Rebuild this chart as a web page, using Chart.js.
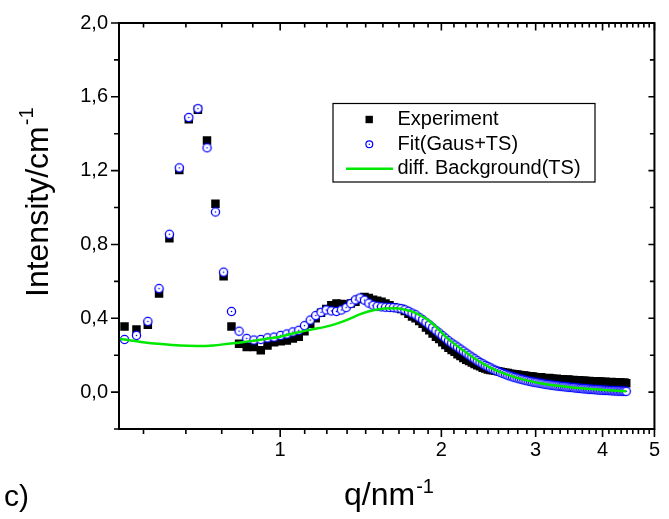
<!DOCTYPE html>
<html>
<head>
<meta charset="utf-8">
<title>Intensity vs q</title>
<script src="https://cdn.jsdelivr.net/npm/chart.js@4.4.0/dist/chart.umd.min.js"></script>
<style>
  html, body { margin: 0; padding: 0; background: #fff; }
  #wrap { position: relative; width: 669px; height: 519px; }
</style>
</head>
<body>
<div id="wrap"><canvas id="chart" width="669" height="519"></canvas></div>
<script>
// q values of the measured / fitted points (nm^-1)
const qValues = [
  0.512, 0.539, 0.566, 0.594, 0.621, 0.648, 0.675, 0.702, 0.730, 0.757,
  0.784, 0.811, 0.838, 0.866, 0.893, 0.920, 0.947, 0.974, 1.002, 1.029,
  1.056, 1.083, 1.110, 1.138, 1.165, 1.192, 1.219, 1.246, 1.274, 1.301,
  1.328, 1.355, 1.382, 1.410, 1.437, 1.464, 1.491, 1.518, 1.546, 1.573,
  1.600, 1.627, 1.654, 1.682, 1.709, 1.736, 1.763, 1.790, 1.818, 1.845,
  1.872, 1.899, 1.926, 1.954, 1.981, 2.008, 2.035, 2.062, 2.090, 2.117,
  2.144, 2.171, 2.198, 2.226, 2.253, 2.280, 2.307, 2.334, 2.362, 2.389,
  2.416, 2.443, 2.470, 2.498, 2.525, 2.552, 2.579, 2.606, 2.634, 2.661,
  2.688, 2.715, 2.742, 2.770, 2.797, 2.824, 2.851, 2.878, 2.906, 2.933,
  2.960, 2.987, 3.014, 3.042, 3.069, 3.096, 3.123, 3.150, 3.178, 3.205,
  3.232, 3.259, 3.286, 3.314, 3.341, 3.368, 3.395, 3.422, 3.450, 3.477,
  3.504, 3.531, 3.558, 3.586, 3.613, 3.640, 3.667, 3.694, 3.722, 3.749,
  3.776, 3.803, 3.830, 3.858, 3.885, 3.912, 3.939, 3.966, 3.994, 4.021,
  4.048, 4.075, 4.102, 4.130, 4.157, 4.184, 4.211, 4.238, 4.266, 4.293,
  4.320, 4.347, 4.374, 4.402, 4.429
];

// Experiment (black squares)
const experiment = [
  0.356, 0.339, 0.365, 0.534, 0.834, 1.203, 1.479, 1.530, 1.363, 1.021,
  0.627, 0.356, 0.262, 0.244, 0.244, 0.227, 0.253, 0.270, 0.275, 0.280,
  0.290, 0.300, 0.330, 0.370, 0.400, 0.430, 0.450, 0.470, 0.480, 0.478,
  0.475, 0.480, 0.490, 0.505, 0.515, 0.510, 0.500, 0.495, 0.490, 0.480,
  0.470, 0.460, 0.455, 0.450, 0.440, 0.425, 0.410, 0.400, 0.385, 0.370,
  0.350, 0.335, 0.318, 0.300, 0.288, 0.270, 0.255, 0.240, 0.228, 0.218,
  0.205, 0.195, 0.185, 0.175, 0.168, 0.160, 0.152, 0.145, 0.140, 0.132,
  0.128, 0.122, 0.120, 0.118, 0.115, 0.113, 0.110, 0.108, 0.105, 0.104,
  0.100, 0.098, 0.097, 0.095, 0.092, 0.090, 0.090, 0.088, 0.085, 0.084,
  0.085, 0.082, 0.080, 0.078, 0.080, 0.077, 0.075, 0.074, 0.076, 0.073,
  0.072, 0.070, 0.072, 0.070, 0.068, 0.069, 0.067, 0.066, 0.068, 0.065,
  0.064, 0.066, 0.063, 0.062, 0.064, 0.062, 0.060, 0.062, 0.060, 0.059,
  0.060, 0.058, 0.057, 0.059, 0.057, 0.056, 0.058, 0.055, 0.056, 0.054,
  0.056, 0.053, 0.054, 0.052, 0.055, 0.053, 0.051, 0.053, 0.050, 0.052,
  0.050, 0.049, 0.051, 0.050, 0.048
];

// Fit(Gaus+TS) (blue open circles)
const fitGausTS = [
  0.285, 0.307, 0.383, 0.561, 0.855, 1.215, 1.488, 1.536, 1.324, 0.976,
  0.650, 0.437, 0.330, 0.291, 0.282, 0.285, 0.294, 0.298, 0.307, 0.315,
  0.326, 0.335, 0.360, 0.390, 0.415, 0.432, 0.445, 0.440, 0.437, 0.445,
  0.458, 0.480, 0.500, 0.510, 0.498, 0.482, 0.470, 0.465, 0.462, 0.460,
  0.459, 0.458, 0.456, 0.452, 0.446, 0.438, 0.428, 0.419, 0.405, 0.392,
  0.378, 0.364, 0.349, 0.334, 0.320, 0.306, 0.292, 0.278, 0.266, 0.255,
  0.244, 0.233, 0.222, 0.211, 0.200, 0.190, 0.180, 0.170, 0.161, 0.153,
  0.145, 0.138, 0.131, 0.124, 0.118, 0.112, 0.106, 0.101, 0.096, 0.091,
  0.087, 0.083, 0.079, 0.076, 0.072, 0.069, 0.066, 0.063, 0.060, 0.058,
  0.055, 0.053, 0.051, 0.049, 0.047, 0.045, 0.043, 0.041, 0.040, 0.038,
  0.037, 0.035, 0.034, 0.033, 0.031, 0.030, 0.029, 0.028, 0.027, 0.026,
  0.025, 0.024, 0.023, 0.022, 0.021, 0.020, 0.019, 0.018, 0.018, 0.017,
  0.016, 0.015, 0.015, 0.014, 0.013, 0.013, 0.012, 0.011, 0.011, 0.010,
  0.010, 0.009, 0.009, 0.008, 0.008, 0.007, 0.007, 0.007, 0.006, 0.006,
  0.006, 0.005, 0.005, 0.005, 0.004
];

// diff. Background(TS) (green line)
const bgQ = [
  0.50, 0.55, 0.60, 0.65, 0.70, 0.75, 0.80, 0.85, 0.90, 0.95,
  1.00, 1.07, 1.15, 1.24, 1.33, 1.42, 1.50, 1.57, 1.64, 1.70,
  1.76, 1.82, 1.89, 1.96, 2.03, 2.10, 2.20, 2.30, 2.40, 2.50,
  2.60, 2.75, 2.90, 3.10, 3.30, 3.55, 3.80, 4.10, 4.43
];
const bgValues = [
  0.289, 0.272, 0.260, 0.252, 0.250, 0.253, 0.262, 0.270, 0.280, 0.290,
  0.300, 0.322, 0.340, 0.360, 0.390, 0.425, 0.445, 0.453, 0.454, 0.448,
  0.437, 0.418, 0.390, 0.350, 0.305, 0.268, 0.225, 0.185, 0.152, 0.125,
  0.104, 0.080, 0.062, 0.045, 0.034, 0.024, 0.017, 0.010, 0.004
];

// axis ticks
const xMajorTicks = [1, 2, 3, 4, 5];
const yMajorTicks = [0, 0.4, 0.8, 1.2, 1.6, 2.0];
const yMinorTicks = [-0.2, 0.2, 0.6, 1.0, 1.4, 1.8];

const FONT = '"Liberation Sans", Arial, Helvetica, sans-serif';
const BLUE = '#0000ff';
const GREEN = '#00e800';

// Origin style minor ticks: 8 per interval on the log axis, 4 below 1
function buildXTicks() {
  const ticks = [];
  for (let k = 5; k <= 8; k++) ticks.push({ value: k / 9, major: false });
  for (let n = 1; n <= 5; n++) {
    ticks.push({ value: n, major: true });
    if (n < 5) for (let k = 1; k <= 8; k++) ticks.push({ value: n + k / 9, major: false });
  }
  return ticks;
}
const xTicksAll = buildXTicks();
const yTicksAll = yMajorTicks.map(v => ({ value: v, major: true }))
  .concat(yMinorTicks.map(v => ({ value: v, major: false })))
  .sort((a, b) => a.value - b.value);

// open circle with a dot in the middle
function ringDot(r) {
  const size = Math.ceil(r * 2 + 4);
  const c = document.createElement('canvas');
  c.width = size; c.height = size;
  const g = c.getContext('2d');
  const m = size / 2;
  g.beginPath(); g.arc(m, m, r, 0, Math.PI * 2);
  g.fillStyle = '#fff'; g.fill();
  g.lineWidth = 1.3; g.strokeStyle = BLUE; g.stroke();
  g.beginPath(); g.arc(m, m, 0.8, 0, Math.PI * 2);
  g.fillStyle = BLUE; g.fill();
  return c;
}

const decorations = {
  id: 'decorations',
  afterDatasetsDraw(chart) {
    const { ctx, chartArea: a, scales: { x, y } } = chart;
    ctx.save();
    ctx.strokeStyle = '#000';
    ctx.lineWidth = 1.6;
    ctx.beginPath();
    xTicksAll.forEach(t => {
      const px = x.getPixelForValue(t.value);
      ctx.moveTo(px, a.bottom); ctx.lineTo(px, a.bottom + (t.major ? 8 : 5));
      ctx.moveTo(px, a.top); ctx.lineTo(px, a.top + (t.major ? 7.5 : 4.5));
    });
    yTicksAll.forEach(t => {
      const py = y.getPixelForValue(t.value);
      ctx.moveTo(a.left, py); ctx.lineTo(a.left - (t.major ? 8 : 5), py);
      ctx.moveTo(a.right, py); ctx.lineTo(a.right - (t.major ? 6 : 4.5), py);
    });
    ctx.stroke();

    ctx.lineWidth = 2;
    ctx.strokeRect(a.left, a.top, a.right - a.left, a.bottom - a.top);

    // legend box
    const ds = chart.data.datasets;
    ctx.fillStyle = '#fff';
    ctx.fillRect(333, 103.5, 262, 78.5);
    ctx.lineWidth = 1.2;
    ctx.strokeRect(333, 103.5, 262, 78.5);
    ctx.font = '20px ' + FONT;
    ctx.fillStyle = '#000';
    ctx.textBaseline = 'middle';
    ctx.textAlign = 'left';
    ctx.fillText(ds[0].label, 397.5, 119.5);
    ctx.fillText(ds[1].label, 397.5, 144);
    ctx.fillText(ds[2].label, 397.5, 168.5);
    ctx.fillRect(365.5, 115.8, 7.4, 7.4);
    ctx.beginPath(); ctx.arc(369.3, 144.3, 3.4, 0, Math.PI * 2);
    ctx.lineWidth = 1.2; ctx.strokeStyle = BLUE; ctx.stroke();
    ctx.beginPath(); ctx.arc(369.3, 144.3, 0.7, 0, Math.PI * 2);
    ctx.fillStyle = BLUE; ctx.fill();
    ctx.beginPath(); ctx.moveTo(346, 168.7); ctx.lineTo(393, 168.7);
    ctx.lineWidth = 2.5; ctx.strokeStyle = GREEN; ctx.stroke();

    // axis titles with superscripts
    ctx.fillStyle = '#000';
    ctx.textBaseline = 'alphabetic';
    ctx.font = '32px ' + FONT;
    const xt = 'q/nm';
    const xw = ctx.measureText(xt).width;
    ctx.fillText(xt, 344, 505);
    ctx.font = '20px ' + FONT;
    ctx.fillText('-1', 344 + xw + 1, 493);

    ctx.save();
    ctx.translate(48, 297);
    ctx.rotate(-Math.PI / 2);
    ctx.font = '32px ' + FONT;
    const yt = 'Intensity/cm';
    const yw = ctx.measureText(yt).width;
    ctx.fillText(yt, 0, 0);
    ctx.font = '20px ' + FONT;
    ctx.fillText('-1', yw + 1, -15);
    ctx.restore();

    ctx.font = '30px ' + FONT;
    ctx.fillText('c)', 4, 506);
    ctx.restore();
  }
};

const ctx = document.getElementById('chart').getContext('2d');
const chart = new Chart(ctx, {
  type: 'scatter',
  data: {
    datasets: [
      {
        label: 'Experiment',
        data: qValues.map((q, i) => ({ x: q, y: experiment[i] })),
        pointStyle: 'rect',
        pointRadius: 6,
        pointBackgroundColor: '#000',
        pointBorderColor: '#000',
        pointBorderWidth: 0,
        order: 3
      },
      {
        label: 'Fit(Gaus+TS)',
        data: qValues.map((q, i) => ({ x: q, y: fitGausTS[i] })),
        pointStyle: ringDot(4.1),
        order: 2
      },
      {
        label: 'diff. Background(TS)',
        data: bgQ.map((q, i) => ({ x: q, y: bgValues[i] })),
        showLine: true,
        borderColor: GREEN,
        borderWidth: 2.5,
        pointRadius: 0,
        cubicInterpolationMode: 'monotone',
        order: 1
      }
    ]
  },
  options: {
    responsive: false,
    animation: false,
    layout: { padding: { top: 18, right: 7, left: 0, bottom: 0 } },
    plugins: { legend: { display: false }, tooltip: { enabled: false } },
    scales: {
      x: {
        type: 'logarithmic',
        min: 0.5,
        max: 5,
        afterBuildTicks: s => { s.ticks = xTicksAll.map(t => ({ value: t.value, major: t.major })); },
        afterFit: s => { s.height = 90; },
        grid: { display: false, drawTicks: false },
        border: { display: false },
        ticks: {
          autoSkip: false,
          maxRotation: 0,
          minRotation: 0,
          padding: 9,
          color: '#000',
          font: { family: FONT, size: 20 },
          callback: v => xMajorTicks.includes(v) ? String(v) : ''
        }
      },
      y: {
        type: 'linear',
        min: -0.2,
        max: 2.0,
        afterBuildTicks: s => { s.ticks = yTicksAll.map(t => ({ value: t.value, major: t.major })); },
        afterFit: s => { s.width = 119; },
        grid: { display: false, drawTicks: false },
        border: { display: false },
        ticks: {
          autoSkip: false,
          padding: 11,
          color: '#000',
          font: { family: FONT, size: 20 },
          callback: v => yMajorTicks.includes(v) ? v.toFixed(1).replace('.', ',') : ''
        }
      }
    }
  },
  plugins: [decorations]
});
</script>
</body>
</html>
